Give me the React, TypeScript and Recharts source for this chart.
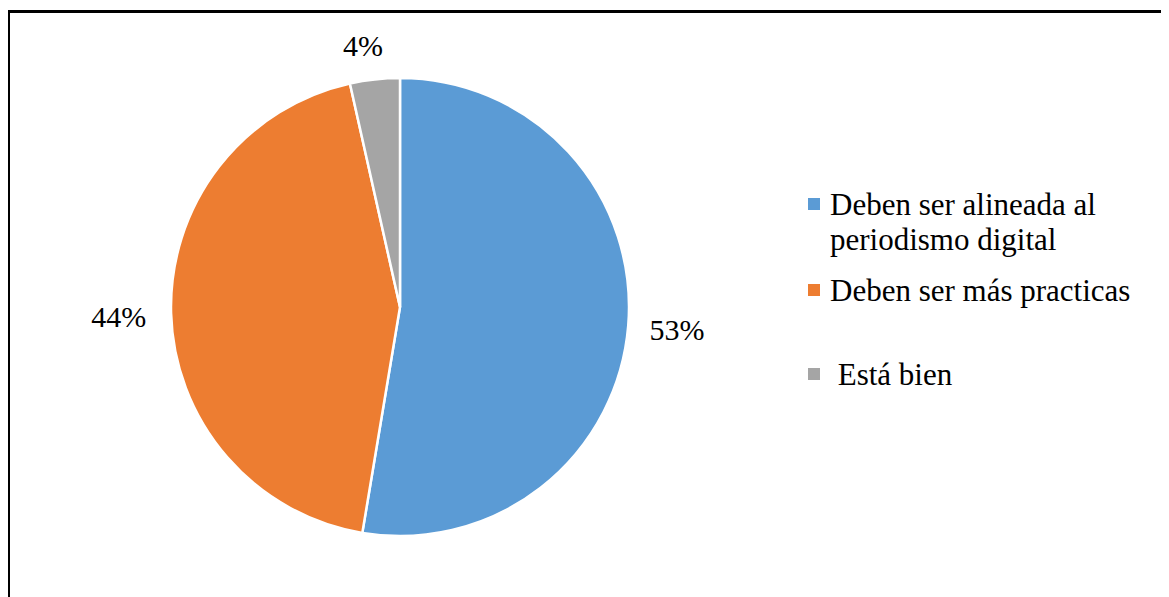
import React from 'react';
import { PieChart, Pie, Cell, Legend } from 'recharts';

const categories = ['Deben ser alineada al periodismo digital', 'Deben ser más practicas', ' Está bien'];
const legendLines = [['Deben ser alineada al', 'periodismo digital'], ['Deben ser más practicas'], ['\u00a0Está bien']];
const counts = [30, 25, 2];
const colors = ['#5B9BD5', '#ED7D31', '#A5A5A5'];

const data = categories.map((name, i) => ({ name, value: counts[i] }));

const FONT = 'Liberation Serif, Tinos, DejaVu Serif, serif';
const RADIAN = Math.PI / 180;

const renderLabel = ({ cx, cy, midAngle, outerRadius, percent }: any) => {
  const text = `${Math.round(percent * 100)}%`;
  const cos = Math.cos(-midAngle * RADIAN);
  const sin = Math.sin(-midAngle * RADIAN);
  const hw = text.length * 8 + 4;
  const hh = 12;
  const r = outerRadius + 20 + Math.abs(cos) * hw + Math.abs(sin) * hh;
  return (
    <text
      x={cx + r * cos - (Math.abs(cos) < 0.3 ? 8 : cos < 0 ? 4 : 0)}
      y={cy + r * sin + (cos < -0.9 ? 2 : 0)}
      textAnchor="middle"
      dominantBaseline="central"
      fill="#000"
      style={{ fontFamily: FONT, fontSize: 30 }}
    >
      {text}
    </text>
  );
};

// legend item tops (px, page coords)
const itemTops = [187, 273, 357];

const CustomLegend = () => (
  <div style={{ position: 'relative', width: 360, height: 260, fontFamily: FONT, fontSize: 31, lineHeight: '35px', color: '#000' }}>
    {legendLines.map((lines, i) => (
      <div key={i} style={{ position: 'absolute', left: 0, top: itemTops[i] - 180, display: 'flex' }}>
        <span style={{ display: 'inline-block', flex: 'none', width: 12, height: 12, background: colors[i], marginTop: 11, marginRight: 10 }} />
        <div>
          {lines.map((l, j) => (
            <div key={j} style={{ whiteSpace: 'nowrap' }}>{l}</div>
          ))}
        </div>
      </div>
    ))}
  </div>
);

export default function App() {
  return (
    <div style={{ position: 'relative', width: 1169, height: 640, margin: -8, overflow: 'hidden', background: '#fff', fontFamily: FONT }}>
      <div
        style={{
          position: 'absolute',
          left: 7,
          top: 10,
          width: 1300,
          height: 800,
          border: '3px solid #000',
          boxSizing: 'border-box',
        }}
      />
      <div style={{ position: 'absolute', left: 0, top: 0 }}>
        <PieChart width={1169} height={597} margin={{ top: 0, right: 0, bottom: 0, left: 0 }}>
          <Pie
            data={data}
            dataKey="value"
            nameKey="name"
            cx={400}
            cy={307}
            outerRadius={229}
            startAngle={90}
            endAngle={-270}
            stroke="#fff"
            strokeWidth={2.5}
            label={renderLabel}
            labelLine={false}
            isAnimationActive={false}
          >
            {data.map((d, i) => (
              <Cell key={d.name} fill={colors[i]} />
            ))}
          </Pie>
          <Legend
            layout="vertical"
            align="right"
            verticalAlign="top"
            content={<CustomLegend />}
            wrapperStyle={{ position: 'absolute', left: 808, top: 180, width: 360 }}
          />
        </PieChart>
      </div>
    </div>
  );
}
